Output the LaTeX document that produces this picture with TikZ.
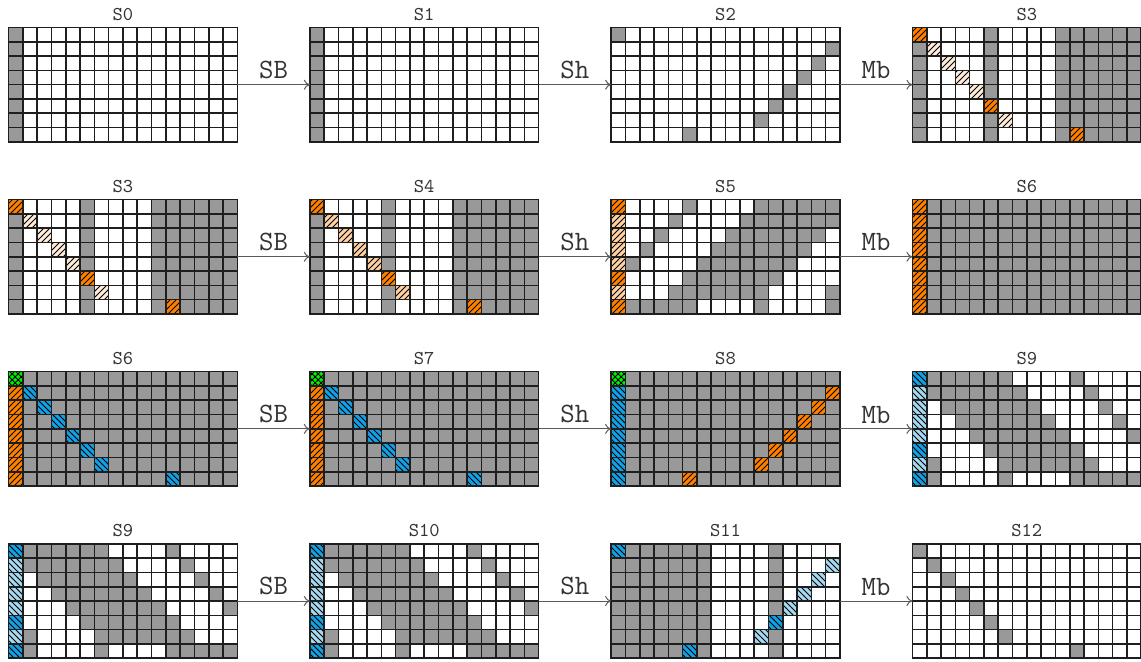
\documentclass[tikz,border=0pt]{standalone}
\usepackage{fontspec}
\usepackage{xcolor}
\definecolor{cellgray}{RGB}{153,153,153}
\definecolor{gridline}{RGB}{30,30,30}
\definecolor{flowgray}{RGB}{90,90,90}
\definecolor{hotorange}{RGB}{255,128,0}
\definecolor{skyblue}{RGB}{20,160,226}
\definecolor{paleblue}{RGB}{166,216,240}
\definecolor{brightgreen}{RGB}{0,240,0}
\usetikzlibrary{arrows.meta, positioning, patterns}

% one row of 16 cells, one letter per cell
\newcommand\cellw{14.3}
\def\readcells#1{\ifx#1\relax\else
  \path[#1cell] (\colidx*\cellw,\rowidx*\cellw) rectangle ++(\cellw,\cellw);%
  \pgfmathtruncatemacro\colidx{\colidx+1}%
  \expandafter\readcells\fi}
\newcommand\cellrow[2]{\def\rowidx{#1}\def\colidx{0}\readcells#2\relax}
% the 8 rows of a state, drawn into its node
\newcommand\statecells[9]{%
  \begin{scope}[shift={(#1.north west)}]
    \cellrow{0}{#2}\cellrow{1}{#3}\cellrow{2}{#4}\cellrow{3}{#5}%
    \cellrow{4}{#6}\cellrow{5}{#7}\cellrow{6}{#8}\cellrow{7}{#9}%
  \end{scope}}

\begin{document}
\begin{tikzpicture}[
  x=0.5pt, y=-0.5pt,
  statebox/.style={rectangle, minimum width=114.4pt, minimum height=57.2pt,
                   inner sep=0pt, outer sep=0pt, anchor=north west},
  statename/.style={font=\ttfamily\fontsize{9.8}{11}\selectfont, inner sep=0pt, text=black!80},
  oplabel/.style={font=\ttfamily\fontsize{14}{15}\selectfont, above=2.6pt, inner sep=0pt, text=black!80},
  flow/.style={-{To[length=3pt,width=5pt]}, line width=0.5pt, draw=flowgray},
  cell/.style={draw=gridline, line width=0.8pt},
  wcell/.style={cell, fill=white},
  gcell/.style={cell, fill=cellgray},
  ocell/.style={cell, preaction={fill=hotorange}, pattern=north east lines},
  pcell/.style={cell, preaction={fill=hotorange!37}, pattern=north east lines},
  qcell/.style={cell, preaction={fill=hotorange!15}, pattern=north east lines},
  bcell/.style={cell, preaction={fill=skyblue}, pattern=north west lines},
  lcell/.style={cell, preaction={fill=paleblue}, pattern=north west lines},
  xcell/.style={cell, preaction={fill=brightgreen}, pattern=crosshatch}
]
  \useasboundingbox (0,0) rectangle (1141,662);

  % States
  \node[statebox] (s0)  at (8.5,27.5)    {};
  \node[statebox] (s1)  at (309.8,27.5)  {};
  \node[statebox] (s2)  at (611.1,27.5)  {};
  \node[statebox] (s3)  at (912.4,27.5)  {};
  \node[statebox] (s3b) at (8.5,199.6)   {};
  \node[statebox] (s4)  at (309.8,199.6) {};
  \node[statebox] (s5)  at (611.1,199.6) {};
  \node[statebox] (s6)  at (912.4,199.6) {};
  \node[statebox] (s6b) at (8.5,371.7)   {};
  \node[statebox] (s7)  at (309.8,371.7) {};
  \node[statebox] (s8)  at (611.1,371.7) {};
  \node[statebox] (s9)  at (912.4,371.7) {};
  \node[statebox] (s9b) at (8.5,543.8)   {};
  \node[statebox] (s10) at (309.8,543.8) {};
  \node[statebox] (s11) at (611.1,543.8) {};
  \node[statebox] (s12) at (912.4,543.8) {};

  % Cells
  \statecells{s0}{gwwwwwwwwwwwwwww}{gwwwwwwwwwwwwwww}{gwwwwwwwwwwwwwww}{gwwwwwwwwwwwwwww}
                 {gwwwwwwwwwwwwwww}{gwwwwwwwwwwwwwww}{gwwwwwwwwwwwwwww}{gwwwwwwwwwwwwwww}
  \statecells{s1}{gwwwwwwwwwwwwwww}{gwwwwwwwwwwwwwww}{gwwwwwwwwwwwwwww}{gwwwwwwwwwwwwwww}
                 {gwwwwwwwwwwwwwww}{gwwwwwwwwwwwwwww}{gwwwwwwwwwwwwwww}{gwwwwwwwwwwwwwww}
  \statecells{s2}{gwwwwwwwwwwwwwww}{wwwwwwwwwwwwwwwg}{wwwwwwwwwwwwwwgw}{wwwwwwwwwwwwwgww}
                 {wwwwwwwwwwwwgwww}{wwwwwwwwwwwgwwww}{wwwwwwwwwwgwwwww}{wwwwwgwwwwwwwwww}
  \statecells{s3}{owwwwgwwwwgggggg}{gqwwwgwwwwgggggg}{gwqwwgwwwwgggggg}{gwwqwgwwwwgggggg}
                 {gwwwqgwwwwgggggg}{gwwwwowwwwgggggg}{gwwwwgqwwwgggggg}{gwwwwgwwwwgogggg}
  \statecells{s3b}{owwwwgwwwwgggggg}{gqwwwgwwwwgggggg}{gwqwwgwwwwgggggg}{gwwqwgwwwwgggggg}
                  {gwwwqgwwwwgggggg}{gwwwwowwwwgggggg}{gwwwwgqwwwgggggg}{gwwwwgwwwwgogggg}
  \statecells{s4}{owwwwgwwwwgggggg}{gpwwwgwwwwgggggg}{gwpwwgwwwwgggggg}{gwwpwgwwwwgggggg}
                 {gwwwpgwwwwgggggg}{gwwwwowwwwgggggg}{gwwwwgpwwwgggggg}{gwwwwgwwwwgogggg}
  \statecells{s5}{owwwwgwwwwgggggg}{pwwwgwwwwggggggg}{pwwgwwwwgggggggw}{pwgwwwwgggggggww}
                 {pgwwwwgggggggwww}{owwwwgggggggwwww}{pwwwgggggggwwwwg}{ogggggwwwwgwwwwg}
  \statecells{s6}{oggggggggggggggg}{oggggggggggggggg}{oggggggggggggggg}{oggggggggggggggg}
                 {oggggggggggggggg}{oggggggggggggggg}{oggggggggggggggg}{oggggggggggggggg}
  \statecells{s6b}{xggggggggggggggg}{obgggggggggggggg}{ogbggggggggggggg}{oggbgggggggggggg}
                  {ogggbggggggggggg}{oggggbgggggggggg}{ogggggbggggggggg}{oggggggggggbgggg}
  \statecells{s7}{xggggggggggggggg}{obgggggggggggggg}{ogbggggggggggggg}{oggbgggggggggggg}
                 {ogggbggggggggggg}{oggggbgggggggggg}{ogggggbggggggggg}{oggggggggggbgggg}
  \statecells{s8}{xggggggggggggggg}{bggggggggggggggo}{bgggggggggggggog}{bggggggggggggogg}
                 {bgggggggggggoggg}{bggggggggggogggg}{bgggggggggoggggg}{bggggogggggggggg}
  \statecells{s9}{bggggggwwwwgwwww}{lgggggggwwwwgwww}{lwgggggggwwwwgww}{lwwgggggggwwwwgw}
                 {lwwwgggggggwwwwg}{bwwwwgggggggwwww}{lgwwwwgggggggwww}{bgwwwwgwwwwggggg}
  \statecells{s9b}{bggggggwwwwgwwww}{lgggggggwwwwgwww}{lwgggggggwwwwgww}{lwwgggggggwwwwgw}
                  {lwwwgggggggwwwwg}{bwwwwgggggggwwww}{lgwwwwgggggggwww}{bgwwwwgwwwwggggg}
  \statecells{s10}{bggggggwwwwgwwww}{lgggggggwwwwgwww}{lwgggggggwwwwgww}{lwwgggggggwwwwgw}
                  {lwwwgggggggwwwwg}{bwwwwgggggggwwww}{lgwwwwgggggggwww}{bgwwwwgwwwwggggg}
  \statecells{s11}{bggggggwwwwgwwww}{gggggggwwwwgwwwl}{gggggggwwwwgwwlw}{gggggggwwwwgwlww}
                  {gggggggwwwwglwww}{gggggggwwwwbwwww}{gggggggwwwlgwwww}{gggggbgwwwwgwwww}
  \statecells{s12}{gwwwwwwwwwwwwwww}{wgwwwwwwwwwwwwww}{wwgwwwwwwwwwwwww}{wwwgwwwwwwwwwwww}
                  {wwwwgwwwwwwwwwww}{wwwwwgwwwwwwwwww}{wwwwwwgwwwwwwwww}{wwwwwwwwwwwgwwww}

  % Names
  \node[statename, above=3.2pt of s0]  (n0)  {S0};
  \node[statename, above=3.2pt of s1]  (n1)  {S1};
  \node[statename, above=3.2pt of s2]  (n2)  {S2};
  \node[statename, above=3.2pt of s3]  (n3)  {S3};
  \node[statename, above=3.2pt of s3b] (n3b) {S3};
  \node[statename, above=3.2pt of s4]  (n4)  {S4};
  \node[statename, above=3.2pt of s5]  (n5)  {S5};
  \node[statename, above=3.2pt of s6]  (n6)  {S6};
  \node[statename, above=3.2pt of s6b] (n6b) {S6};
  \node[statename, above=3.2pt of s7]  (n7)  {S7};
  \node[statename, above=3.2pt of s8]  (n8)  {S8};
  \node[statename, above=3.2pt of s9]  (n9)  {S9};
  \node[statename, above=3.2pt of s9b] (n9b) {S9};
  \node[statename, above=3.2pt of s10] (n10) {S10};
  \node[statename, above=3.2pt of s11] (n11) {S11};
  \node[statename, above=3.2pt of s12] (n12) {S12};

  % Operations
  \draw[flow] (s0)  -- node[oplabel] {SB} (s1);
  \draw[flow] (s1)  -- node[oplabel] {Sh} (s2);
  \draw[flow] (s2)  -- node[oplabel] {Mb} (s3);
  \draw[flow] (s3b) -- node[oplabel] {SB} (s4);
  \draw[flow] (s4)  -- node[oplabel] {Sh} (s5);
  \draw[flow] (s5)  -- node[oplabel] {Mb} (s6);
  \draw[flow] (s6b) -- node[oplabel] {SB} (s7);
  \draw[flow] (s7)  -- node[oplabel] {Sh} (s8);
  \draw[flow] (s8)  -- node[oplabel] {Mb} (s9);
  \draw[flow] (s9b) -- node[oplabel] {SB} (s10);
  \draw[flow] (s10) -- node[oplabel] {Sh} (s11);
  \draw[flow] (s11) -- node[oplabel] {Mb} (s12);
\end{tikzpicture}
\end{document}
